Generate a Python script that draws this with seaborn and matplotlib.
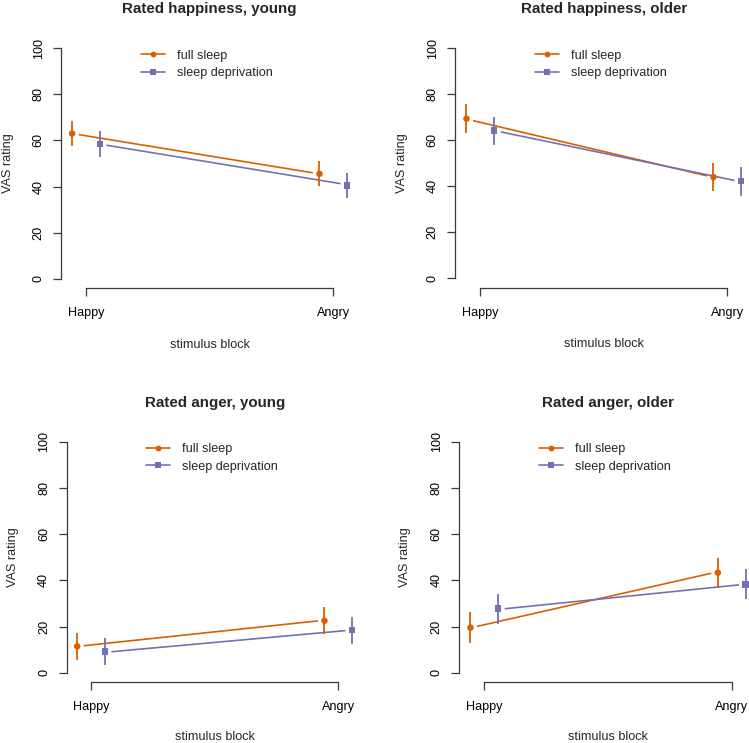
import numpy as np
import pandas as pd
import seaborn as sns
import matplotlib.pyplot as plt
from matplotlib.lines import Line2D

# %%
# values
blocks = ["Happy", "Angry"]
conditions = ["full sleep", "sleep deprivation"]
titles = ["Rated happiness, young", "Rated happiness, older",
          "Rated anger, young", "Rated anger, older"]

# group means (Happy, Angry) per panel
full_mean = [[63.0, 45.5], [69.4, 44.0], [11.4, 22.5], [19.5, 43.3]]
full_lo = [[57.6, 40.3], [63.3, 38.0], [5.5, 16.8], [13.0, 36.5]]
full_hi = [[68.4, 51.2], [75.7, 50.3], [17.3, 28.6], [26.1, 49.5]]
sd_mean = [[58.5, 40.5], [64.2, 42.2], [9.1, 18.4], [27.7, 38.1]]
sd_lo = [[53.0, 35.0], [58.0, 35.9], [3.3, 12.4], [21.1, 31.8]]
sd_hi = [[64.0, 45.7], [70.3, 48.5], [15.0, 24.2], [34.1, 44.7]]

# model fit lines (Happy, Angry)
full_fit = [[62.5, 46.0], [68.5, 44.6], [11.7, 22.4], [20.1, 43.0]]
sd_fit = [[57.9, 41.3], [63.6, 42.6], [9.1, 18.2], [27.7, 38.0]]

# %%
pal = {"full sleep": "#D95F02", "sleep deprivation": "#7570B3"}
marks = {"full sleep": "o", "sleep deprivation": "s"}
dodge = 0.056
gap = 0.029

W, H = 749, 743
# pixel layout of each panel: y-axis x, Happy x, Angry x, y of 0, y of 100
panel_px = [(61.3, 86.0, 333.3, 278.7, 48.3),
            (455.3, 480.3, 727.3, 278.3, 48.3),
            (66.7, 91.0, 338.3, 672.7, 441.7),
            (459.3, 484.3, 731.7, 672.7, 441.7)]

sns.set_theme(style="ticks")
plt.rcParams["font.family"] = ["Liberation Sans", "DejaVu Sans"]
axis_col = "#3a3a3a"

fig = plt.figure(figsize=(W / 100, H / 100), dpi=100)

for i, (spx, hx, ax_, y0, y100) in enumerate(panel_px):
    ppu = ax_ - hx
    ext = (hx - spx) / ppu
    x0, x1 = 1 - ext, 2 + ext
    ppy = (y0 - y100) / 100
    bot = y0 + 4 * ppy
    top = y100 - 4 * ppy
    ax = fig.add_axes([spx / W, 1 - bot / H, (x1 - x0) * ppu / W, (bot - top) / H])

    df = pd.DataFrame({
        "condition": [c for c in conditions for _ in blocks],
        "block": blocks * 2,
        "pos": [1 - dodge, 2 - dodge, 1 + dodge, 2 + dodge],
        "mean": full_mean[i] + sd_mean[i],
        "lo": full_lo[i] + sd_lo[i],
        "hi": full_hi[i] + sd_hi[i],
        "fit": full_fit[i] + sd_fit[i],
    })
    df["fit_pos"] = df["pos"] + np.where(df["block"] == "Happy", gap, -gap)

    sns.lineplot(data=df, x="fit_pos", y="fit", hue="condition", palette=pal,
                 units="condition", estimator=None, sort=False, lw=1.2,
                 legend=False, ax=ax)
    for c in conditions:
        d = df[df["condition"] == c]
        ax.vlines(d["pos"], d["lo"], d["hi"], color=pal[c], lw=1.3, zorder=3)
    sns.scatterplot(data=df, x="pos", y="mean", hue="condition", style="condition",
                    palette=pal, markers=marks, s=22, edgecolor="none",
                    legend=False, zorder=4, ax=ax)

    ax.set_xlim(x0, x1)
    ax.set_ylim(-4, 104)
    ax.set_xticks([1, 2], blocks)
    ax.set_yticks(range(0, 101, 20))
    sns.despine(ax=ax)
    ax.spines["left"].set_bounds(0, 100)
    ax.spines["bottom"].set_bounds(1, 2)
    for s in ["left", "bottom"]:
        ax.spines[s].set_color(axis_col)
        ax.spines[s].set_linewidth(0.9)
    ax.tick_params(axis="both", length=5.5, width=0.9, color=axis_col,
                   labelsize=9.1, labelcolor="black")
    ax.tick_params(axis="y", labelrotation=90, pad=6.5)
    ax.tick_params(axis="x", pad=8.5)
    for lab in ax.get_yticklabels():
        lab.set_va("center")

    ax.set_xlabel("stimulus block", fontsize=9.1)
    # bottom row label sits right at the figure edge, keep it inside
    ax.xaxis.set_label_coords(0.5, -0.205 if i < 2 else -0.196)
    ax.set_ylabel("VAS rating", fontsize=9.1)
    ax.yaxis.label.set_va("center")
    ax.yaxis.set_label_coords(-0.181, 0.5)
    ax.set_title(titles[i], fontsize=10.9, fontweight="bold", y=1.12, pad=0, va="center")

    handles = [Line2D([], [], color=pal[c], marker=marks[c], markersize=4.2,
                      lw=1.2, markeredgewidth=0) for c in conditions]
    ax.legend(handles, conditions, loc="upper left", bbox_to_anchor=(0.269, 0.957),
              frameon=False, fontsize=9.1, handlelength=1.9, handletextpad=0.95,
              labelspacing=0.45, borderpad=0, borderaxespad=0)

fig.savefig("out.png", dpi=100)
